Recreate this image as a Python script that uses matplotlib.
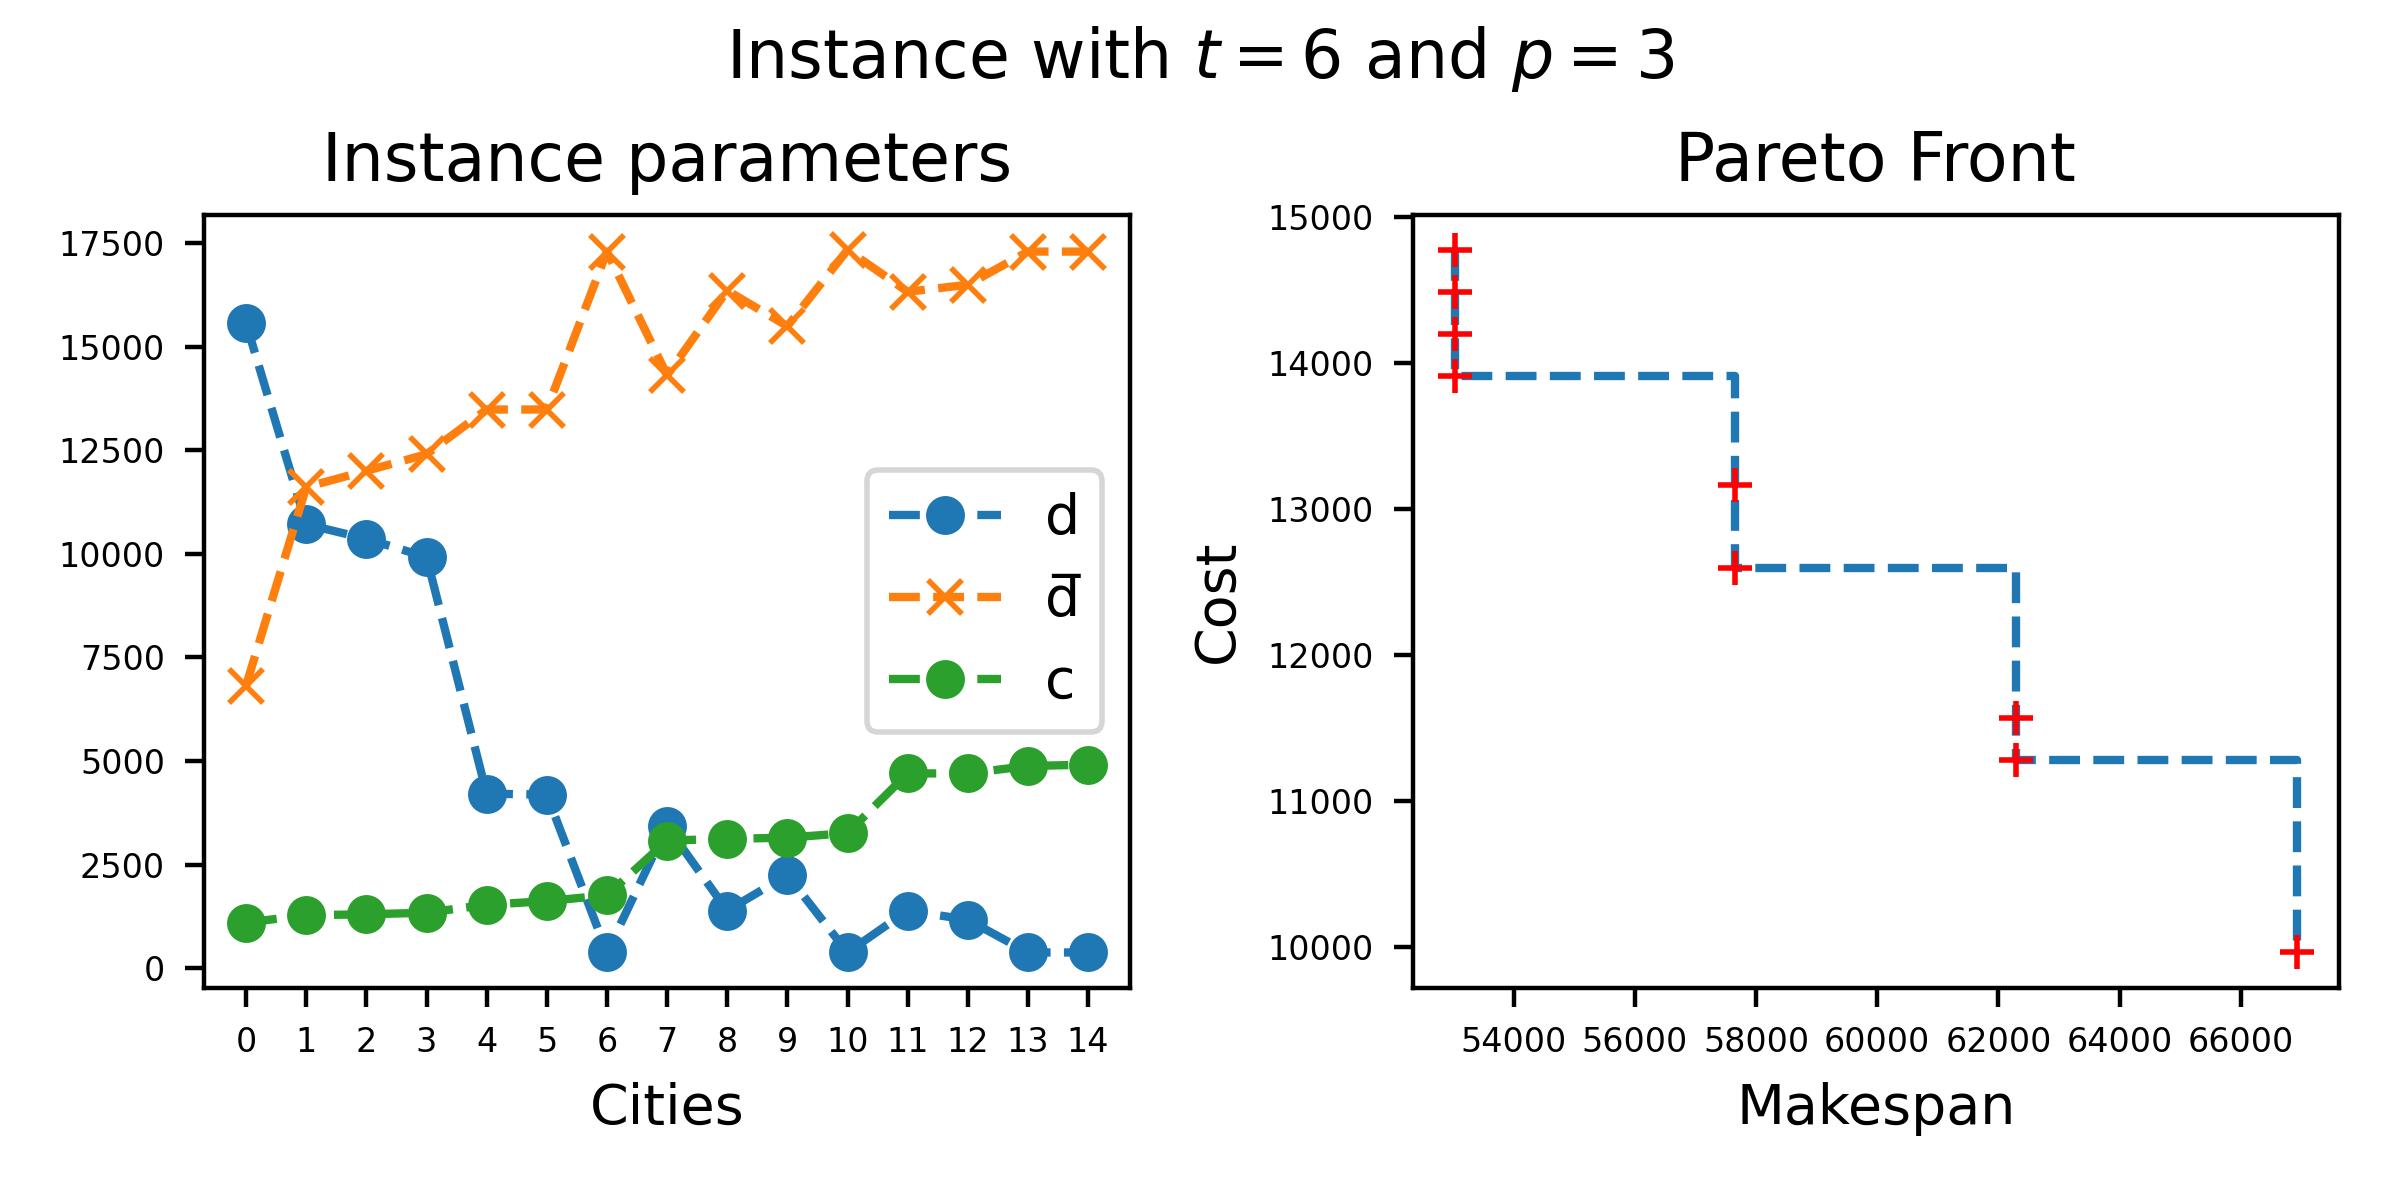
from matplotlib import pyplot as plt

cities = list(range(15))
d_vals = [15560, 10710, 10360, 9920, 4210, 4190, 380, 3420, 1390, 2250,
          380, 1390, 1170, 380, 380]
dbar_vals = [6820, 11610, 12000, 12400, 13480, 13480, 17290, 14310, 16350, 15490,
             17330, 16320, 16490, 17290, 17290]
c_vals = [1100, 1280, 1300, 1340, 1530, 1620, 1760, 3080, 3120, 3150,
          3260, 4700, 4700, 4880, 4910]

makespan = [53030, 53030, 53030, 53030, 57650, 57650, 62290, 62290, 66920]
cost = [14775, 14485, 14200, 13910, 13165, 12595, 11570, 11280, 9960]

fig, (ax1, ax2) = plt.subplots(nrows=1, ncols=2, figsize=(6, 3))
fig.subplots_adjust(left=0.085, right=0.9745, bottom=0.177, top=0.821, wspace=0.305)

ax1.plot(cities, d_vals, "o--", label="d")
ax1.plot(cities, dbar_vals, "x--", label="d\u0305")
ax1.plot(cities, c_vals, "o--", label="c")
ax1.set_xticks(cities)
ax1.tick_params(labelsize=6)
ax1.set_title("Instance parameters")
ax1.set_xlabel("Cities")
ax1.legend(loc="center right")

# pareto front as a step line
ax2.step(makespan, cost, where="post", linestyle="--")
ax2.plot(makespan, cost, "r+")
ax2.tick_params(labelsize=6)
ax2.set_title("Pareto Front")
ax2.set_xlabel("Makespan")
ax2.set_ylabel("Cost")

fig.suptitle("Instance with $t = 6$ and $p = 3$")

plt.savefig("out.png", dpi=400)
